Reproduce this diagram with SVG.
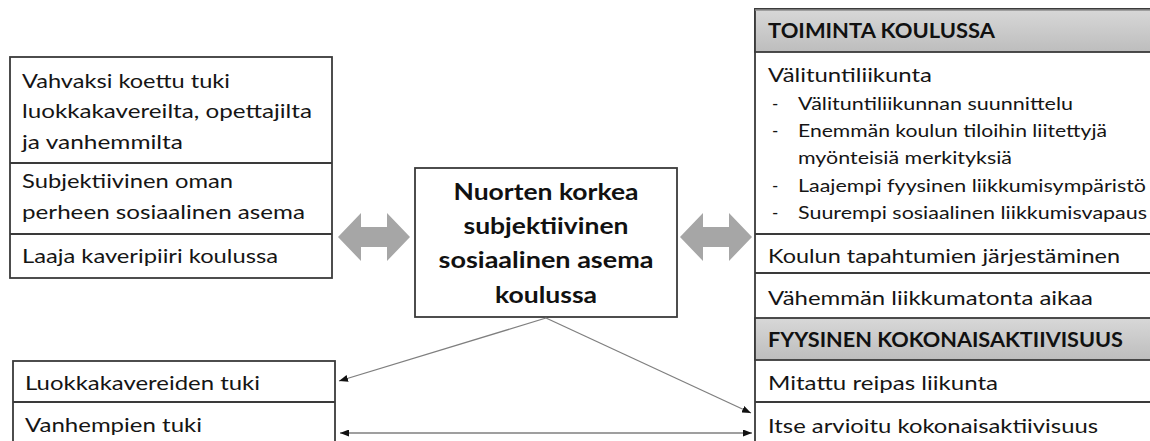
<svg xmlns="http://www.w3.org/2000/svg" width="1150" height="441" viewBox="0 0 1150 441">
<style>
.box{fill:#fff;stroke:#3a3a3a;stroke-width:1.8}
.div{stroke:#3a3a3a;stroke-width:1.8;fill:none}
.t{font-family:Lato,"Open Sans","Liberation Sans",sans-serif;font-size:19px;fill:#151515}
.s{font-family:Lato,"Open Sans","Liberation Sans",sans-serif;font-size:17px;fill:#151515}
.h{font-family:Lato,"Open Sans","Liberation Sans",sans-serif;font-size:20.5px;font-weight:bold;fill:#111}
.c{font-family:Lato,"Open Sans","Liberation Sans",sans-serif;font-size:23.5px;font-weight:bold;fill:#111;text-anchor:middle}
.hdr{fill:url(#hg);stroke:#3a3a3a;stroke-width:1.8}
.big{fill:#a6a6a6}
.con{stroke:#7f7f7f;stroke-width:1.3;fill:none}
</style>
<defs>
<linearGradient id="hg" x1="0" y1="0" x2="0" y2="1">
<stop offset="0" stop-color="#d8d8d8"/>
<stop offset="1" stop-color="#bdbdbd"/>
</linearGradient>
<marker id="ah" markerUnits="userSpaceOnUse" markerWidth="9" markerHeight="7" refX="9" refY="3.5" orient="auto-start-reverse">
<path d="M0,0 L9,3.5 L0,7 z" fill="#111"/>
</marker>
</defs>

<g id="left-top">
<rect class="box" x="10" y="57" width="322" height="221"/>
<line class="div" x1="10" y1="163" x2="332" y2="163"/>
<line class="div" x1="10" y1="234" x2="332" y2="234"/>
<text class="t" x="22" y="88" textLength="208" lengthAdjust="spacingAndGlyphs">Vahvaksi koettu tuki</text>
<text class="t" x="22" y="118" textLength="290" lengthAdjust="spacingAndGlyphs">luokkakavereilta, opettajilta</text>
<text class="t" x="22" y="149" textLength="161" lengthAdjust="spacingAndGlyphs">ja vanhemmilta</text>
<text class="t" x="22" y="188" textLength="211" lengthAdjust="spacingAndGlyphs">Subjektiivinen oman</text>
<text class="t" x="22" y="219" textLength="283" lengthAdjust="spacingAndGlyphs">perheen sosiaalinen asema</text>
<text class="t" x="22" y="263" textLength="256" lengthAdjust="spacingAndGlyphs">Laaja kaveripiiri koulussa</text>
</g>

<g id="center">
<rect class="box" x="415" y="168" width="262" height="149"/>
<text class="c" x="546" y="200" textLength="185" lengthAdjust="spacingAndGlyphs">Nuorten korkea</text>
<text class="c" x="546" y="234" textLength="165" lengthAdjust="spacingAndGlyphs">subjektiivinen</text>
<text class="c" x="546" y="268" textLength="215" lengthAdjust="spacingAndGlyphs">sosiaalinen asema</text>
<text class="c" x="546" y="303" textLength="102" lengthAdjust="spacingAndGlyphs">koulussa</text>
</g>

<g id="right">
<rect class="box" x="755" y="9" width="410" height="445"/>
<rect class="hdr" x="755" y="9" width="410" height="43"/>
<line x1="755" y1="10" x2="1150" y2="10" stroke="#8c8c8c" stroke-width="1.5"/>
<line class="div" x1="755" y1="234" x2="1160" y2="234"/>
<line class="div" x1="755" y1="273" x2="1160" y2="273"/>
<rect class="hdr" x="755" y="318" width="410" height="42"/>
<line class="div" x1="755" y1="402" x2="1160" y2="402"/>
<text class="h" x="768" y="38" textLength="227" lengthAdjust="spacingAndGlyphs">TOIMINTA KOULUSSA</text>
<text class="t" x="768" y="82" textLength="164" lengthAdjust="spacingAndGlyphs">Välituntiliikunta</text>
<text class="s" x="772" y="110">-</text>
<text class="s" x="798" y="110" textLength="275" lengthAdjust="spacingAndGlyphs">Välituntiliikunnan suunnittelu</text>
<text class="s" x="772" y="137">-</text>
<text class="s" x="798" y="137" textLength="309" lengthAdjust="spacingAndGlyphs">Enemmän koulun tiloihin liitettyjä</text>
<text class="s" x="798" y="164" textLength="214" lengthAdjust="spacingAndGlyphs">myönteisiä merkityksiä</text>
<text class="s" x="772" y="192">-</text>
<text class="s" x="798" y="192" textLength="348" lengthAdjust="spacingAndGlyphs">Laajempi fyysinen liikkumisympäristö</text>
<text class="s" x="772" y="219">-</text>
<text class="s" x="798" y="219" textLength="349" lengthAdjust="spacingAndGlyphs">Suurempi sosiaalinen liikkumisvapaus</text>
<text class="t" x="768" y="263" textLength="352" lengthAdjust="spacingAndGlyphs">Koulun tapahtumien järjestäminen</text>
<text class="t" x="768" y="305" textLength="325" lengthAdjust="spacingAndGlyphs">Vähemmän liikkumatonta aikaa</text>
<text class="h" x="768" y="347" textLength="355" lengthAdjust="spacingAndGlyphs">FYYSINEN KOKONAISAKTIIVISUUS</text>
<text class="t" x="768" y="390" textLength="230" lengthAdjust="spacingAndGlyphs">Mitattu reipas liikunta</text>
<text class="t" x="768" y="433" textLength="330" lengthAdjust="spacingAndGlyphs">Itse arvioitu kokonaisaktiivisuus</text>
</g>

<g id="left-bottom">
<rect class="box" x="13" y="361" width="322" height="95"/>
<line class="div" x1="13" y1="402" x2="335" y2="402"/>
<text class="t" x="25" y="390" textLength="235" lengthAdjust="spacingAndGlyphs">Luokkakavereiden tuki</text>
<text class="t" x="25" y="432" textLength="177" lengthAdjust="spacingAndGlyphs">Vanhempien tuki</text>
</g>

<g id="connectors">
<polygon class="big" points="338,237 361,213 361,227 387,227 387,213 410,237 387,261 387,247 361,247 361,261"/>
<polygon class="big" points="680,237 703,213 703,227 729,227 729,213 752,237 729,261 729,247 703,247 703,261"/>
<line class="con" x1="546" y1="318" x2="339" y2="381" marker-end="url(#ah)"/>
<line class="con" x1="546" y1="318" x2="751" y2="413" marker-end="url(#ah)"/>
<line class="con" x1="340" y1="433" x2="752" y2="433" marker-start="url(#ah)" marker-end="url(#ah)"/>
</g>
</svg>
